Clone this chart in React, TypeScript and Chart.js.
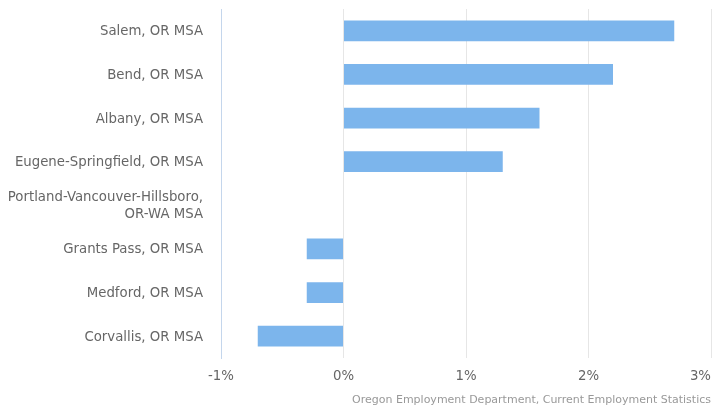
import React, { useEffect, useRef } from "react";
import { Chart, registerables } from "chart.js";

Chart.register(...registerables);

const categories: (string | string[])[] = [
  "Salem, OR MSA",
  "Bend, OR MSA",
  "Albany, OR MSA",
  "Eugene-Springfield, OR MSA",
  ["Portland-Vancouver-Hillsboro,", "OR-WA MSA"],
  "Grants Pass, OR MSA",
  "Medford, OR MSA",
  "Corvallis, OR MSA",
];
const changeValues: number[] = [2.7, 2.2, 1.6, 1.3, 0, -0.3, -0.3, -0.7];
const xMin = -1;
const xMax = 3;
const sourceText = "Oregon Employment Department, Current Employment Statistics";

const FONT = '"DejaVu Sans", Verdana, sans-serif';

const xLabelPlugin = {
  id: "xLabelPlugin",
  afterDraw(chart: any) {
    const xs = chart.scales.x;
    const ctx = chart.ctx;
    ctx.save();
    ctx.font = `13.3px ${FONT}`;
    ctx.fillStyle = "#666666";
    ctx.textBaseline = "middle";
    ctx.textAlign = "center";
    const y = xs.top + 10 + 8.3;
    xs.ticks.forEach((t: any, i: number) => {
      const label = String(t.label);
      let x = xs.getPixelForTick(i);
      const w = ctx.measureText(label).width;
      if (x + w / 2 > chart.width - 1) x = chart.width - 1 - w / 2;
      ctx.fillText(label, x, y);
    });
    ctx.restore();
  },
};

export default function App() {
  const canvasRef = useRef<HTMLCanvasElement | null>(null);

  useEffect(() => {
    document.body.style.margin = "0";
    const canvas = canvasRef.current;
    if (!canvas) return;
    const chart = new Chart(canvas, {
      type: "bar",
      data: {
        labels: categories as any,
        datasets: [
          {
            data: changeValues,
            backgroundColor: "#7cb5ec",
            borderWidth: 0,
            barPercentage: 0.473,
            categoryPercentage: 1,
          },
        ],
      },
      plugins: [xLabelPlugin],
      options: {
        indexAxis: "y",
        animation: false,
        responsive: true,
        maintainAspectRatio: false,
        layout: { padding: { top: 9, right: 1, bottom: 0, left: 0 } },
        plugins: {
          legend: { display: false },
          tooltip: { enabled: false },
          title: {
            display: true,
            text: sourceText,
            position: "bottom",
            align: "end",
            color: "#999999",
            font: { family: FONT, size: 11, weight: "normal", lineHeight: 1.2 },
            padding: { top: 0, bottom: 3.4 },
          },
        },
        scales: {
          x: {
            type: "linear",
            min: xMin,
            max: xMax,
            ticks: {
              stepSize: 1,
              color: "transparent",
              font: { family: FONT, size: 13.3 },
              padding: 10,
              maxRotation: 0,
              callback: (v: any) => `${v}%`,
            },
            grid: {
              color: (ctx: any) => (ctx.tick && ctx.tick.value === xMin ? "transparent" : "#e6e6e6"),
              drawTicks: false,
              lineWidth: 1,
            },
            border: { display: false },
            afterFit: (s: any) => {
              s.height = 35.4;
              s.paddingLeft = 0;
              s.paddingRight = 0;
            },
          },
          y: {
            type: "category",
            ticks: {
              color: "#666666",
              font: { family: FONT, size: 13.3, lineHeight: 1.27 },
              padding: 18,
              labelOffset: 1,
              autoSkip: false,
            },
            grid: { display: false, drawTicks: false },
            border: { display: true, color: "#c4d6ec", width: 1 },
            afterFit: (s: any) => {
              s.width = 221;
              s.paddingTop = 0;
              s.paddingBottom = 0;
            },
          },
        },
      },
    } as any);
    return () => chart.destroy();
  }, []);

  return (
    <div style={{ position: "relative", width: 712, height: 410 }}>
      <canvas ref={canvasRef} />
    </div>
  );
}
